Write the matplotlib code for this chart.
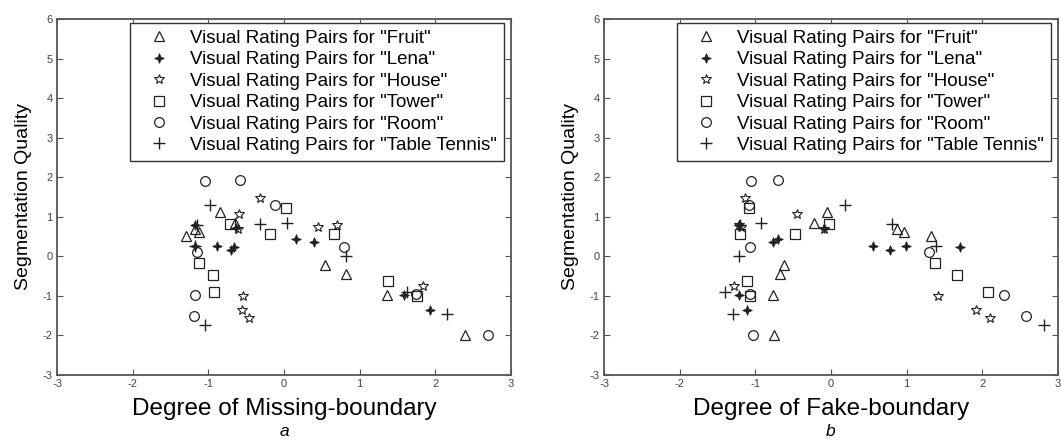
import numpy as np
import matplotlib
matplotlib.use("Agg")
import matplotlib.pyplot as plt
from matplotlib.path import Path

plt.rcParams['font.family'] = ['Liberation Sans', 'DejaVu Sans']
plt.rcParams['axes.unicode_minus'] = False

# Segmentation Quality (shared by both panels) and degrees for each image
fruit_q = [1.12, 0.85, 0.69, 0.62, 0.51, -0.21, -0.45, -0.99, -2.0]
fruit_miss = [-0.85, -0.65, -1.18, -1.12, -1.30, 0.54, 0.82, 1.36, 2.39]
fruit_fake = [-0.05, -0.23, 0.87, 0.97, 1.32, -0.62, -0.67, -0.77, -0.75]

lena_q = [0.78, 0.72, 0.45, 0.36, 0.25, 0.25, 0.23, 0.15, -0.99, -1.35]
lena_miss = [-1.18, -0.63, 0.16, 0.39, -1.18, -0.88, -0.66, -0.70, 1.59, 1.93]
lena_fake = [-1.21, -0.09, -0.70, -0.77, 0.99, 0.56, 1.71, 0.78, -1.22, -1.11]

house_q = [1.48, 1.08, 0.79, 0.75, 0.69, -0.74, -1.0, -1.35, -1.55]
house_miss = [-0.32, -0.59, 0.70, 0.45, -0.61, 1.84, -0.54, -0.56, -0.46]
house_fake = [-1.14, -0.45, -1.22, -1.19, -0.09, -1.28, 1.42, 1.92, 2.10]

tower_q = [1.21, 0.83, 0.57, 0.57, -0.18, -0.46, -0.62, -0.89, -1.01]
tower_miss = [0.02, -0.72, -0.18, 0.66, -1.12, -0.94, 1.38, -0.93, 1.76]
tower_fake = [-1.09, -0.03, -1.20, -0.48, 1.37, 1.67, -1.11, 2.07, -1.07]

room_q = [1.92, 1.90, 1.31, 0.23, 0.10, -0.96, -0.97, -1.52, -2.0]
room_miss = [-0.58, -1.04, -0.12, 0.79, -1.15, 1.75, -1.17, -1.19, 2.69]
room_fake = [-0.70, -1.06, -1.09, -1.07, 1.30, -1.07, 2.28, 2.58, -1.03]

tt_q = [1.31, 0.85, 0.83, 0.79, 0.27, 0.0, -0.89, -1.45, -1.73]
tt_miss = [-0.98, 0.04, -0.32, -1.15, -1.18, 0.82, 1.63, 2.16, -1.05]
tt_fake = [0.19, -0.93, 0.81, -1.2, 1.39, -1.21, -1.40, -1.30, 2.82]

names = ["Fruit", "Lena", "House", "Tower", "Room", "Table Tennis"]
xticks = [-3, -2, -1, 0, 1, 2, 3]
yticks = [-3, -2, -1, 0, 1, 2, 3, 4, 5, 6]

# 4-point filled star for "Lena"
star4 = Path([(0, 1), (0.3, 0.3), (1, 0), (0.3, -0.3), (0, -1),
              (-0.3, -0.3), (-1, 0), (-0.3, 0.3), (0, 1)])

ink = '#222222'
styles = [
    dict(marker='^', ms=7, mfc='none', mec=ink, mew=0.9),
    dict(marker=star4, ms=7, mfc=ink, mec=ink, mew=0.5),
    dict(marker='*', ms=7.5, mfc='none', mec=ink, mew=0.8),
    dict(marker='s', ms=6.5, mfc='none', mec=ink, mew=0.9),
    dict(marker='o', ms=7, mfc='none', mec=ink, mew=0.9),
    dict(marker='+', ms=8, mfc='none', mec=ink, mew=1.0),
]

fig = plt.figure(figsize=(10.61, 4.46), dpi=100)
ax_a = fig.add_axes([57 / 1061, 71 / 446, 454 / 1061, 356 / 446])
ax_b = fig.add_axes([604 / 1061, 71 / 446, 454 / 1061, 356 / 446])

panels = [
    (ax_a, [fruit_miss, lena_miss, house_miss, tower_miss, room_miss, tt_miss],
     "Degree of Missing-boundary", "a"),
    (ax_b, [fruit_fake, lena_fake, house_fake, tower_fake, room_fake, tt_fake],
     "Degree of Fake-boundary", "b"),
]
qs = [fruit_q, lena_q, house_q, tower_q, room_q, tt_q]

for ax, xs, xlabel, tag in panels:
    for x, q, name, st in zip(xs, qs, names, styles):
        ax.plot(x, q, linestyle='none', label='Visual Rating Pairs for "%s"' % name, **st)
    ax.set_xlim(-3, 3)
    ax.set_ylim(-3, 6)
    ax.set_xticks(xticks)
    ax.set_yticks(yticks)
    ax.tick_params(direction='in', top=True, right=True, length=4, width=0.8,
                   labelsize=8, labelcolor='#444444', color='#555555', pad=3)
    for sp in ax.spines.values():
        sp.set_color('#555555')
        sp.set_linewidth(1.3)
    ax.set_xlabel(xlabel, fontsize=17.5, labelpad=6)
    ax.set_ylabel("Segmentation Quality", fontsize=14, labelpad=8)
    leg = ax.legend(loc='upper right', bbox_to_anchor=(0.985, 0.99), fontsize=13.5,
                    numpoints=1, handlelength=2.4, handletextpad=0.45,
                    labelspacing=0.23, borderpad=0.38, fancybox=False,
                    framealpha=1, edgecolor='#333333', borderaxespad=0)
    leg.get_frame().set_linewidth(1.0)
    pos = ax.get_position()
    fig.text(pos.x0 + pos.width / 2, 0.016, tag, fontsize=12.5, style='italic',
             ha='center', va='bottom')

fig.savefig("out.png", dpi=100)
